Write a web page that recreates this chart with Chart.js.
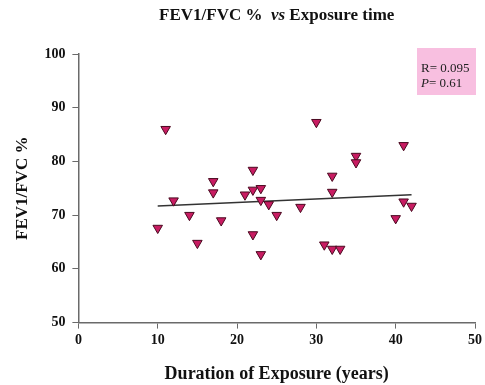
<!DOCTYPE html>
<html>
<head>
<meta charset="utf-8">
<script src="https://cdn.jsdelivr.net/npm/chart.js@4"></script>
<style>
  body { margin: 0; background: #fff; }
  #wrap { width: 485px; height: 385px; }
</style>
</head>
<body>
<div id="wrap"><canvas id="myChart" width="485" height="385"></canvas></div>
<script>
// exposure (years) and FEV1/FVC % for each subject
const exposureYears = [10, 11, 12, 14, 15, 17, 17, 18, 21, 22, 22, 22, 23, 23, 23, 24, 25,
                       28, 30, 31, 32, 33, 32, 32, 35, 35, 40, 41, 41, 42];
const fevFvc = [67.6, 86, 72.7, 70, 64.8, 76.3, 74.2, 69, 73.8, 78.4, 74.7, 66.4, 75, 72.8, 62.7, 72, 70,
                71.5, 87.3, 64.5, 63.7, 63.7, 77.3, 74.3, 81, 79.8, 69.4, 83, 72.5, 71.7];

// fitted line
const fitX = [10, 42];
const fitY = [71.7, 73.8];

const xTicks = [0, 10, 20, 30, 40, 50];
const yTicks = [50, 60, 70, 80, 90, 100];

const statR = 'R= 0.095';
const statP = '0.61';

const SERIF = '"Liberation Serif", "Times New Roman", serif';
const axisColor = '#6a6a6a';

const points = exposureYears.map((x, i) => ({x: x, y: fevFvc[i]}));
const fitLine = fitX.map((x, i) => ({x: x, y: fitY[i]}));

// title with italic "vs" + the R/P box
const extras = {
    id: 'extras',
    afterDraw(chart) {
        const ctx = chart.ctx;
        const area = chart.chartArea;
        ctx.save();
        ctx.fillStyle = '#111';
        ctx.textBaseline = 'middle';
        const parts = [
            ['bold 17px ' + SERIF, 'FEV1/FVC %  '],
            ['bold italic 17px ' + SERIF, 'vs'],
            ['bold 17px ' + SERIF, ' Exposure time'],
        ];
        let total = 0;
        parts.forEach(p => { ctx.font = p[0]; total += ctx.measureText(p[1]).width; });
        let x = (area.left + area.right) / 2 - total / 2;
        parts.forEach(p => {
            ctx.font = p[0];
            ctx.fillText(p[1], x, 16);
            x += ctx.measureText(p[1]).width;
        });

        // stats box
        ctx.fillStyle = '#f8bfe0';
        ctx.fillRect(417, 48, 59, 47);
        ctx.fillStyle = '#222';
        ctx.font = '13px ' + SERIF;
        ctx.textAlign = 'left';
        ctx.fillText(statR, 421, 69);
        ctx.font = 'italic 13px ' + SERIF;
        ctx.fillText('P', 421, 84);
        const pw = ctx.measureText('P').width;
        ctx.font = '13px ' + SERIF;
        ctx.fillText('= ' + statP, 421 + pw, 84);
        ctx.restore();
    }
};

const config = {
    data: {
        datasets: [{
            type: 'scatter',
            data: points,
            pointStyle: 'triangle',
            rotation: 180,
            pointRadius: 5.5,
            pointHoverRadius: 5.5,
            backgroundColor: '#c81c62',
            borderColor: '#4a0a20',
            borderWidth: 1,
            order: 1,
        }, {
            type: 'line',
            data: fitLine,
            borderColor: '#333',
            borderWidth: 1.5,
            pointRadius: 0,
            fill: false,
            order: 2,
        }]
    },
    options: {
        responsive: false,
        animation: false,
        events: [],
        layout: {padding: {top: 54, right: 4, left: 12, bottom: 0}},
        plugins: {
            legend: {display: false},
            tooltip: {enabled: false},
        },
        scales: {
            x: {
                type: 'linear',
                min: 0,
                max: 50,
                afterBuildTicks: axis => { axis.ticks = xTicks.map(v => ({value: v})); },
                grid: {drawOnChartArea: false, drawTicks: true, tickLength: 6, color: axisColor},
                border: {color: axisColor, width: 1.5},
                ticks: {color: '#111', font: {family: SERIF, size: 14, weight: 'bold'}, padding: 3},
                title: {
                    display: true,
                    text: 'Duration of Exposure (years)',
                    color: '#111',
                    font: {family: SERIF, size: 18, weight: 'bold'},
                    padding: {top: 12, bottom: 0},
                },
            },
            y: {
                type: 'linear',
                min: 50,
                max: 100,
                afterBuildTicks: axis => { axis.ticks = yTicks.map(v => ({value: v})); },
                grid: {drawOnChartArea: false, drawTicks: true, tickLength: 6, color: axisColor},
                border: {color: axisColor, width: 1.5},
                ticks: {color: '#111', font: {family: SERIF, size: 14, weight: 'bold'}, padding: 7},
                title: {
                    display: true,
                    text: 'FEV1/FVC %',
                    color: '#111',
                    font: {family: SERIF, size: 17, weight: 'bold'},
                    padding: {top: 0, bottom: 5},
                },
            },
        },
    },
    plugins: [extras],
};

const myChart = new Chart(document.getElementById('myChart'), config);
</script>
</body>
</html>
